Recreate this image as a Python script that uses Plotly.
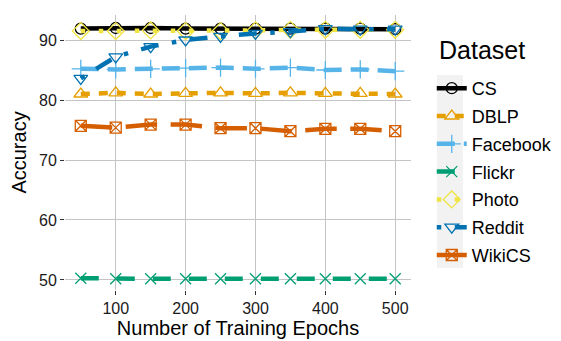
import plotly.graph_objects as go

epochs = [50, 100, 150, 200, 250, 300, 350, 400, 450, 500]
datasets = ["CS", "DBLP", "Facebook", "Flickr", "Photo", "Reddit", "WikiCS"]
cs = [91.9, 92.0, 92.0, 91.9, 91.9, 91.9, 91.9, 91.9, 91.9, 91.8]
dblp = [81.0, 81.2, 81.0, 81.1, 81.2, 81.1, 81.2, 81.1, 81.1, 81.0]
facebook = [85.2, 85.1, 85.2, 85.3, 85.4, 85.2, 85.4, 85.0, 85.1, 84.8]
flickr = [50.3, 50.2, 50.2, 50.2, 50.2, 50.2, 50.2, 50.2, 50.2, 50.2]
photo = [91.5, 91.5, 91.6, 91.5, 91.5, 91.6, 91.7, 91.7, 91.7, 91.7]
reddit = [83.6, 87.2, 88.9, 90.0, 90.6, 91.1, 91.4, 91.9, 91.8, 91.8]
wikics = [75.7, 75.4, 75.9, 75.9, 75.3, 75.3, 74.8, 75.2, 75.2, 74.8]
values = [cs, dblp, facebook, flickr, photo, reddit, wikics]
x_ticks = [100, 200, 300, 400, 500]
y_ticks = [50, 60, 70, 80, 90]

colors = ["#000000", "#E69F00", "#56B4E9", "#009E73", "#F0E442", "#0072B2", "#D55E00"]
symbols = ["circle-open", "triangle-up-open", "cross-thin-open", "x-thin-open",
           "diamond-open", "triangle-down-open", "square-x-open"]
lw = 4.5
dashes = ["solid", "9px,9px", "18px,9px", "18px,18px", "4.5px,13.5px",
          "4.5px,13.5px,18px,13.5px", "31.5px,13.5px"]
msizes = [11, 12, 13, 11, 13, 12, 11]

fig = go.Figure()
for name, vals, c, s, d, ms in zip(datasets, values, colors, symbols, dashes, msizes):
    fig.add_trace(go.Scatter(
        x=epochs, y=vals, name=name, mode="lines+markers", legendgroup=name,
        line=dict(color=c, width=lw, dash=d),
        marker=dict(symbol=s, size=ms, color=c, line=dict(width=1.3, color=c)),
    ))

font = "Liberation Sans, Arial, sans-serif"
# page body has an 8px margin, so the figure is 8px smaller on each axis
fig.update_layout(
    width=553, height=333,
    margin=dict(l=57, r=150, t=7, b=51, autoexpand=False),
    paper_bgcolor="white", plot_bgcolor="white",
    font=dict(family=font, color="#1a1a1a"),
    showlegend=True,
    legend=dict(
        font=dict(size=18, color="#000"),
        x=1.06, xanchor="left", y=0.80, yanchor="top",
        bgcolor="rgba(0,0,0,0)", itemwidth=30, tracegroupgap=1.4,
    ),
    annotations=[dict(text="Dataset", xref="paper", yref="paper", x=1.075, y=0.873,
                      xanchor="left", yanchor="middle", showarrow=False,
                      font=dict(size=25, color="#000"))],
    shapes=[dict(type="rect", xref="paper", yref="paper",
                 x0=1.075, x1=1.15, y0=0.08, y1=0.782,
                 fillcolor="#f2f2f2", line=dict(width=0), layer="below")],
)
fig.update_xaxes(
    range=[27.4, 522.6], tickvals=x_ticks, showgrid=True, automargin=False,
    gridcolor="#c4c4c4", gridwidth=1.3, zeroline=False,
    ticks="outside", ticklen=4, tickcolor="#333", tickwidth=1,
    tickfont=dict(size=16, color="#1a1a1a"),
    title=dict(text="Number of Training Epochs", font=dict(size=20, color="#000"), standoff=0),
    showline=False,
)
fig.update_yaxes(
    range=[48.33, 94.17], tickvals=y_ticks, showgrid=True, automargin=False,
    gridcolor="#c4c4c4", gridwidth=1.3, zeroline=False,
    ticks="outside", ticklen=4, tickcolor="#333", tickwidth=1,
    tickfont=dict(size=16, color="#1a1a1a"),
    title=dict(text="Accuracy", font=dict(size=20, color="#000"), standoff=9),
    showline=False,
)
fig.write_html("out.html")
